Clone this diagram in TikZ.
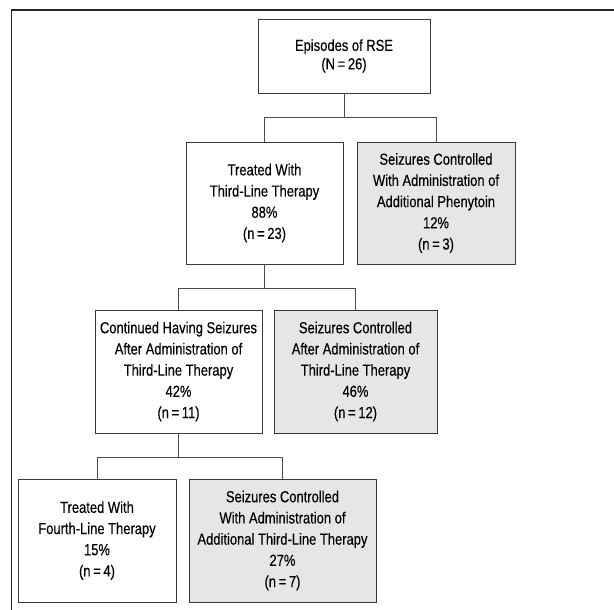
\documentclass[tikz,border=0pt]{standalone}
\usepackage{fontspec}
\setmainfont{Liberation Sans}[FakeStretch=0.81, FakeBold=0.3]
\usetikzlibrary{positioning}
\definecolor{ctrl}{HTML}{E6E6E6}
\definecolor{edge}{HTML}{3A3A3A}

\begin{document}
\begin{tikzpicture}[x=1pt, y=-1pt, every node/.style={draw=edge, line width=0.9pt, fill=white, align=center, inner sep=0pt, font=\fontsize{16}{21.2}\selectfont}, ctrlbox/.style={fill=ctrl}]
\useasboundingbox (0,0) rectangle (614,610);
\draw[line width=1.1pt, black!85] (614,10) -- (11.5,10) -- (11.5,610);
\node (rse) [minimum width=172, minimum height=74, font=\fontsize{16}{18.5}\selectfont] at (344,56) {Episodes of RSE\\(N\,=\,26)};
\node (third) [minimum width=157, minimum height=122] at (264.5,203) {Treated With\\Third-Line Therapy\\88\%\\(n\,=\,23)};
\node (phen) [ctrlbox, minimum width=158, minimum height=122] at (436,203) {Seizures Controlled\\With Administration of\\Additional Phenytoin\\12\%\\(n\,=\,3)};
\node (cont) [minimum width=167, minimum height=123] at (178.5,371.5) {Continued Having Seizures\\After Administration of\\Third-Line Therapy\\42\%\\(n\,=\,11)};
\node (ctrl3) [ctrlbox, minimum width=163, minimum height=123] at (355.5,371.5) {Seizures Controlled\\After Administration of\\Third-Line Therapy\\46\%\\(n\,=\,12)};
\node (fourth) [minimum width=158, minimum height=123] at (97,540.5) {Treated With\\Fourth-Line Therapy\\15\%\\(n\,=\,4)};
\node (add3) [ctrlbox, minimum width=187, minimum height=123] at (282.5,540.5) {Seizures Controlled\\With Administration of\\Additional Third-Line Therapy\\27\%\\(n\,=\,7)};
\foreach \p/\c in {rse/third,rse/phen,third/cont,third/ctrl3,cont/fourth,cont/add3}
  \draw[black!70, line width=0.8pt] (\p.south) -- ++(0,24) -| (\c.north);
\end{tikzpicture}
\end{document}
